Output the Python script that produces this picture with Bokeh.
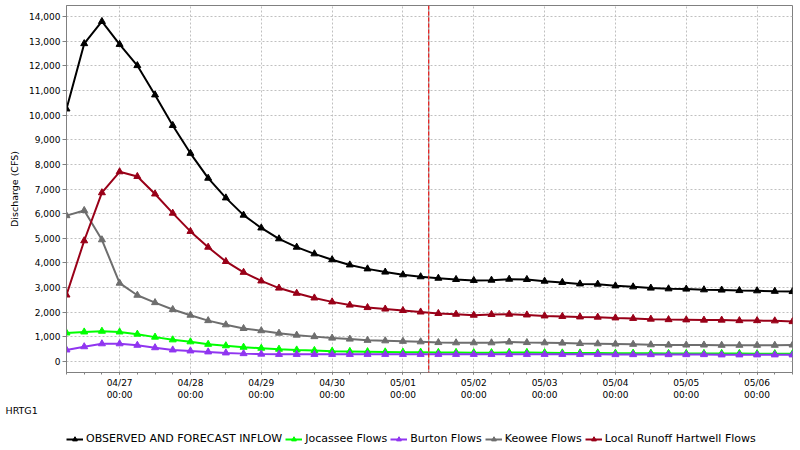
from datetime import datetime, timedelta
from bokeh.plotting import figure
from bokeh.layouts import column
from bokeh.models import (Range1d, FixedTicker, NumeralTickFormatter, SingleIntervalTicker,
                          DatetimeTickFormatter, Legend, LegendItem, Span, Title)
from bokeh.embed import file_html
from bokeh.resources import INLINE

# ---- data -------------------------------------------------------------
start_time = datetime(2024, 4, 26, 6, 0)
step_hours = 6
now_marker = datetime(2024, 5, 1, 8, 45)
station = "HRTG1"

inflow = [10250, 12900, 13800, 12870, 12010, 10820, 9580, 8450, 7440, 6640,
          5940, 5420, 4980, 4640, 4370, 4130, 3920, 3760, 3630, 3520,
          3440, 3380, 3330, 3290, 3300, 3340, 3330, 3260, 3210, 3150,
          3140, 3070, 3030, 2980, 2950, 2940, 2910, 2900, 2880, 2870,
          2850, 2840]
jocassee = [1160, 1200, 1230, 1200, 1110, 990, 880, 800, 700, 640,
            580, 540, 500, 470, 450, 420, 410, 400, 390, 380,
            380, 370, 370, 360, 360, 370, 370, 360, 350, 350,
            350, 340, 340, 340, 330, 330, 330, 330, 330, 320,
            320, 320]
burton = [470, 600, 720, 720, 660, 560, 470, 430, 390, 350,
          320, 300, 290, 290, 290, 290, 290, 290, 290, 290,
          290, 290, 290, 290, 290, 290, 290, 290, 290, 290,
          290, 280, 280, 280, 280, 280, 280, 270, 270, 270,
          270, 270]
keowee = [5920, 6130, 4940, 3180, 2690, 2390, 2110, 1880, 1660, 1490,
          1340, 1250, 1150, 1070, 1010, 950, 910, 860, 840, 820,
          800, 770, 760, 760, 760, 790, 770, 760, 750, 730,
          720, 710, 700, 680, 670, 670, 670, 660, 660, 660,
          660, 670]
local_runoff = [2700, 4900, 6850, 7700, 7510, 6800, 6020, 5280, 4640, 4060,
                3620, 3270, 2980, 2770, 2580, 2420, 2290, 2190, 2130, 2070,
                2010, 1950, 1920, 1880, 1910, 1920, 1890, 1850, 1830, 1810,
                1800, 1770, 1750, 1720, 1700, 1690, 1680, 1680, 1660, 1660,
                1650, 1620]

series_names = ["OBSERVED AND FORECAST INFLOW", "Jocassee Flows", "Burton Flows",
                "Keowee Flows", "Local Runoff Hartwell Flows"]
series_values = [inflow, jocassee, burton, keowee, local_runoff]
series_colors = ["#000000", "#00ff00", "#9035f0", "#6e6e6e", "#990018"]

times = [start_time + timedelta(hours=step_hours * i) for i in range(len(inflow))]

y_start, y_end = -446, 14448

# ---- main figure ----------------------------------------------------------
FONT = "DejaVu Sans"
epoch = datetime(1970, 1, 1)
def ms(dt):
    return (dt - epoch).total_seconds() * 1000.0

p = figure(width=800, height=418, x_axis_type="datetime",
           x_range=Range1d(times[0], times[-1]), y_range=Range1d(y_start, y_end),
           output_backend="svg", toolbar_location=None,
           min_border_left=66, min_border_right=8, min_border_top=5, min_border_bottom=46)
p.background_fill_color = "white"
p.border_fill_color = "white"
p.outline_line_color = "#808080"

first_day = datetime(times[0].year, times[0].month, times[0].day) + timedelta(days=1)
major = []
d = first_day
while d <= times[-1]:
    major.append(ms(d))
    d += timedelta(days=1)
minor = [ms(t) for t in times]

p.xaxis.ticker = FixedTicker(ticks=major, minor_ticks=minor)
fmt = "%m/%d\n%H:%M"
p.xaxis.formatter = DatetimeTickFormatter(milliseconds=fmt, seconds=fmt, minsec=fmt, minutes=fmt,
                                          hourmin=fmt, hours=fmt, days=fmt, months=fmt, years=fmt)
p.yaxis.ticker = SingleIntervalTicker(interval=1000, num_minor_ticks=0)
p.yaxis.formatter = NumeralTickFormatter(format="0,0")
p.yaxis.axis_label = "Discharge (CFS)"

for ax in (p.xaxis[0], p.yaxis[0]):
    ax.axis_line_color = "#808080"
    ax.major_tick_line_color = "#808080"
    ax.minor_tick_line_color = "#808080"
    ax.major_label_text_font = FONT
    ax.major_label_text_font_size = "9px"
    ax.major_label_text_color = "black"
    ax.axis_label_text_font = FONT
    ax.axis_label_text_font_size = "9.5px"
    ax.axis_label_text_font_style = "normal"
    ax.axis_label_text_color = "black"
p.xaxis.major_tick_out = 2
p.xaxis.major_tick_in = 0
p.xaxis.minor_tick_out = 2
p.xaxis.minor_tick_in = 0
p.xaxis.major_label_standoff = 3
p.yaxis.major_tick_out = 4
p.yaxis.major_tick_in = 0
p.yaxis.minor_tick_line_color = None
p.yaxis.major_label_standoff = 2
p.yaxis.axis_label_standoff = 6

for g in (p.xgrid[0], p.ygrid[0]):
    g.grid_line_color = "#c0c0c0"
    g.grid_line_dash = "2 2"
    g.grid_line_width = 1

for name, vals, col in zip(series_names, series_values, series_colors):
    p.line(times, vals, line_color=col, line_width=2)
    p.scatter(times, vals, marker="triangle", size=7, fill_color=col, line_color=col)

p.add_layout(Span(location=ms(now_marker), dimension="height", line_color="#808080", line_width=1))
p.add_layout(Span(location=ms(now_marker), dimension="height", line_color="#ff0000",
                  line_width=1, line_dash="4 2"))

p.add_layout(Title(text=station, align="left", offset=-61, standoff=0,
                   text_font=FONT, text_font_size="9.5px", text_font_style="normal",
                   text_color="black"), "below")

# ---- footer figure holding the legend ---------------------------------------
f = figure(width=800, height=32, x_axis_type="datetime", x_range=p.x_range,
           y_range=Range1d(100000, 100001),
           x_axis_location=None, y_axis_location=None,
           output_backend="svg", toolbar_location=None,
           min_border_left=0, min_border_right=0, min_border_top=0, min_border_bottom=0)
f.grid.visible = False
f.outline_line_color = None
f.background_fill_color = "white"
f.border_fill_color = "white"

items = []
for name, vals, col in zip(series_names, series_values, series_colors):
    r1 = f.line(times, vals, line_color=col, line_width=2)
    r2 = f.scatter(times, vals, marker="triangle", size=7, fill_color=col, line_color=col)
    items.append(LegendItem(label=name, renderers=[r1, r2]))

legend = Legend(items=items, orientation="horizontal", location=(0, 5),
                label_text_font=FONT, label_text_font_size="11px", label_text_color="black",
                glyph_width=17, glyph_height=12, label_height=12, label_standoff=3,
                spacing=3, padding=0, margin=0, border_line_color=None,
                background_fill_alpha=0)
f.add_layout(legend, "center")

layout = column(p, f, spacing=0)
open("out.html", "w").write(file_html(layout, INLINE))
